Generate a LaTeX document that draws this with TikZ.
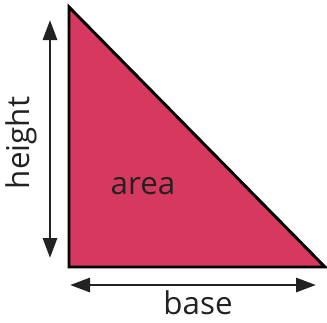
\documentclass[tikz,border=0pt]{standalone}
\usepackage{fontspec}
\setmainfont{Open Sans}
\usetikzlibrary{arrows.meta}
\definecolor{trifill}{RGB}{215,56,96}
\definecolor{txt}{RGB}{34,34,34}
\tikzset{
  dimarrow/.style={draw=txt, line width=2.2pt, {Triangle[length=15pt,width=10.5pt]}-{Triangle[length=15pt,width=10.5pt]}},
  lbl/.style={text=txt, font=\fontsize{23.5}{28}\selectfont, inner sep=0pt},
}
\begin{document}
\begin{tikzpicture}[x=0.75pt,y=-0.75pt]
\useasboundingbox (0,0) rectangle (327,322);
\coordinate (A) at (69,7);
\coordinate (B) at (69,267);
\coordinate (C) at (325,267);
\draw[fill=trifill, draw=black, line width=2.2pt, line join=miter] (A) -- (B) -- (C) -- cycle;
\coordinate (ht) at (50,20);
\coordinate (hb) at (50,258);
\draw[dimarrow] (ht) -- (hb);
\coordinate (bl) at (70,285);
\coordinate (br) at (316,285);
\draw[dimarrow] (bl) -- (br);
\node[lbl, rotate=90] (height) at (21,143) {height};
\node[lbl] (area) at (143,186) {area};
\node[lbl] (base) at (198,303) {base};
\end{tikzpicture}
\end{document}
